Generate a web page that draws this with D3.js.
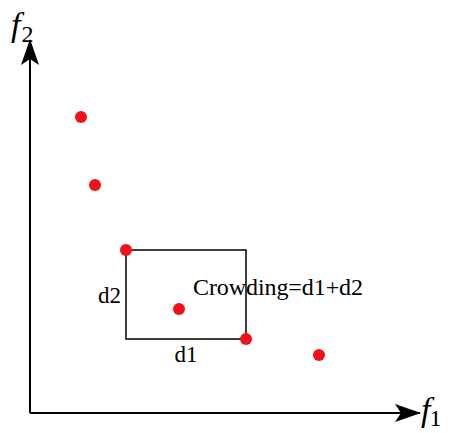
<!DOCTYPE html>
<html>
<head>
<meta charset="utf-8">
<script src="https://cdn.jsdelivr.net/npm/d3@7"></script>
<style>
  html, body { margin: 0; padding: 0; background: #fff; }
  svg text { font-family: "Liberation Serif", "DejaVu Serif", serif; fill: #000; }
</style>
</head>
<body>
<svg id="chart" width="452" height="433"></svg>
<script>
// Objective-space solutions (f1, f2)
const solutionsF1 = [12.75, 16.25, 24, 37.25, 54, 72.25];
const solutionsF2 = [74, 57, 40.75, 26, 18.5, 14.5];
// Neighbours bounding the cuboid of the middle solution
const cuboidCorners = [2, 4];
const axisLabels = ["f", "2", "f", "1"];
const boxLabels = ["d1", "d2", "Crowding=d1+d2"];
const axisExtent = [97.5, 93.25];

const svg = d3.select("#chart");
const x = d3.scaleLinear().domain([0, 100]).range([30, 430]);
const y = d3.scaleLinear().domain([0, 100]).range([413, 13]);

const defs = svg.append("defs");
defs.append("marker")
  .attr("id", "arrow")
  .attr("viewBox", "0 0 26 18")
  .attr("refX", 25).attr("refY", 9)
  .attr("markerWidth", 26).attr("markerHeight", 18)
  .attr("markerUnits", "userSpaceOnUse")
  .attr("orient", "auto")
  .append("path")
  .attr("d", "M0,0 L26,9 L0,18 L6,9 Z")
  .attr("fill", "#000");

// Axes
svg.append("line")
  .attr("x1", x(0)).attr("y1", y(0))
  .attr("x2", x(axisExtent[0])).attr("y2", y(0))
  .attr("stroke", "#000").attr("stroke-width", 2)
  .attr("marker-end", "url(#arrow)");
svg.append("line")
  .attr("x1", x(0)).attr("y1", y(0))
  .attr("x2", x(0)).attr("y2", y(axisExtent[1]))
  .attr("stroke", "#000").attr("stroke-width", 2)
  .attr("marker-end", "url(#arrow)");

// Axis labels f2 and f1
const f2 = svg.append("text").attr("x", 11).attr("y", 36);
f2.append("tspan").attr("font-style", "italic").attr("font-size", 34).text(axisLabels[0]);
f2.append("tspan").attr("font-size", 24).attr("dx", 1).attr("dy", 6).text(axisLabels[1]);
const f1 = svg.append("text").attr("x", 421).attr("y", 421);
f1.append("tspan").attr("font-style", "italic").attr("font-size", 34).text(axisLabels[2]);
f1.append("tspan").attr("font-size", 24).attr("dx", -1).attr("dy", 5).text(axisLabels[3]);

// Cuboid around the middle solution
const [a, b] = cuboidCorners;
svg.append("rect")
  .attr("x", x(solutionsF1[a]))
  .attr("y", y(solutionsF2[a]))
  .attr("width", x(solutionsF1[b]) - x(solutionsF1[a]))
  .attr("height", y(solutionsF2[b]) - y(solutionsF2[a]))
  .attr("fill", "none").attr("stroke", "#000").attr("stroke-width", 1.5);

// Solutions
svg.selectAll("circle.sol")
  .data(solutionsF1.map((v, i) => [v, solutionsF2[i]]))
  .join("circle")
  .attr("class", "sol")
  .attr("cx", d => x(d[0]))
  .attr("cy", d => y(d[1]))
  .attr("r", 6)
  .attr("fill", "#f2111a");

// Box labels
svg.append("text")
  .attr("x", (x(solutionsF1[a]) + x(solutionsF1[b])) / 2)
  .attr("y", y(solutionsF2[b]) + 23)
  .attr("text-anchor", "middle").attr("font-size", 23).text(boxLabels[0]);
svg.append("text")
  .attr("x", x(solutionsF1[a]) - 5)
  .attr("y", (y(solutionsF2[a]) + y(solutionsF2[b])) / 2 + 8)
  .attr("text-anchor", "end").attr("font-size", 23).text(boxLabels[1]);
svg.append("text")
  .attr("x", 193)
  .attr("y", 295)
  .attr("textLength", 170)
  .attr("font-size", 24).text(boxLabels[2]);
</script>
</body>
</html>
